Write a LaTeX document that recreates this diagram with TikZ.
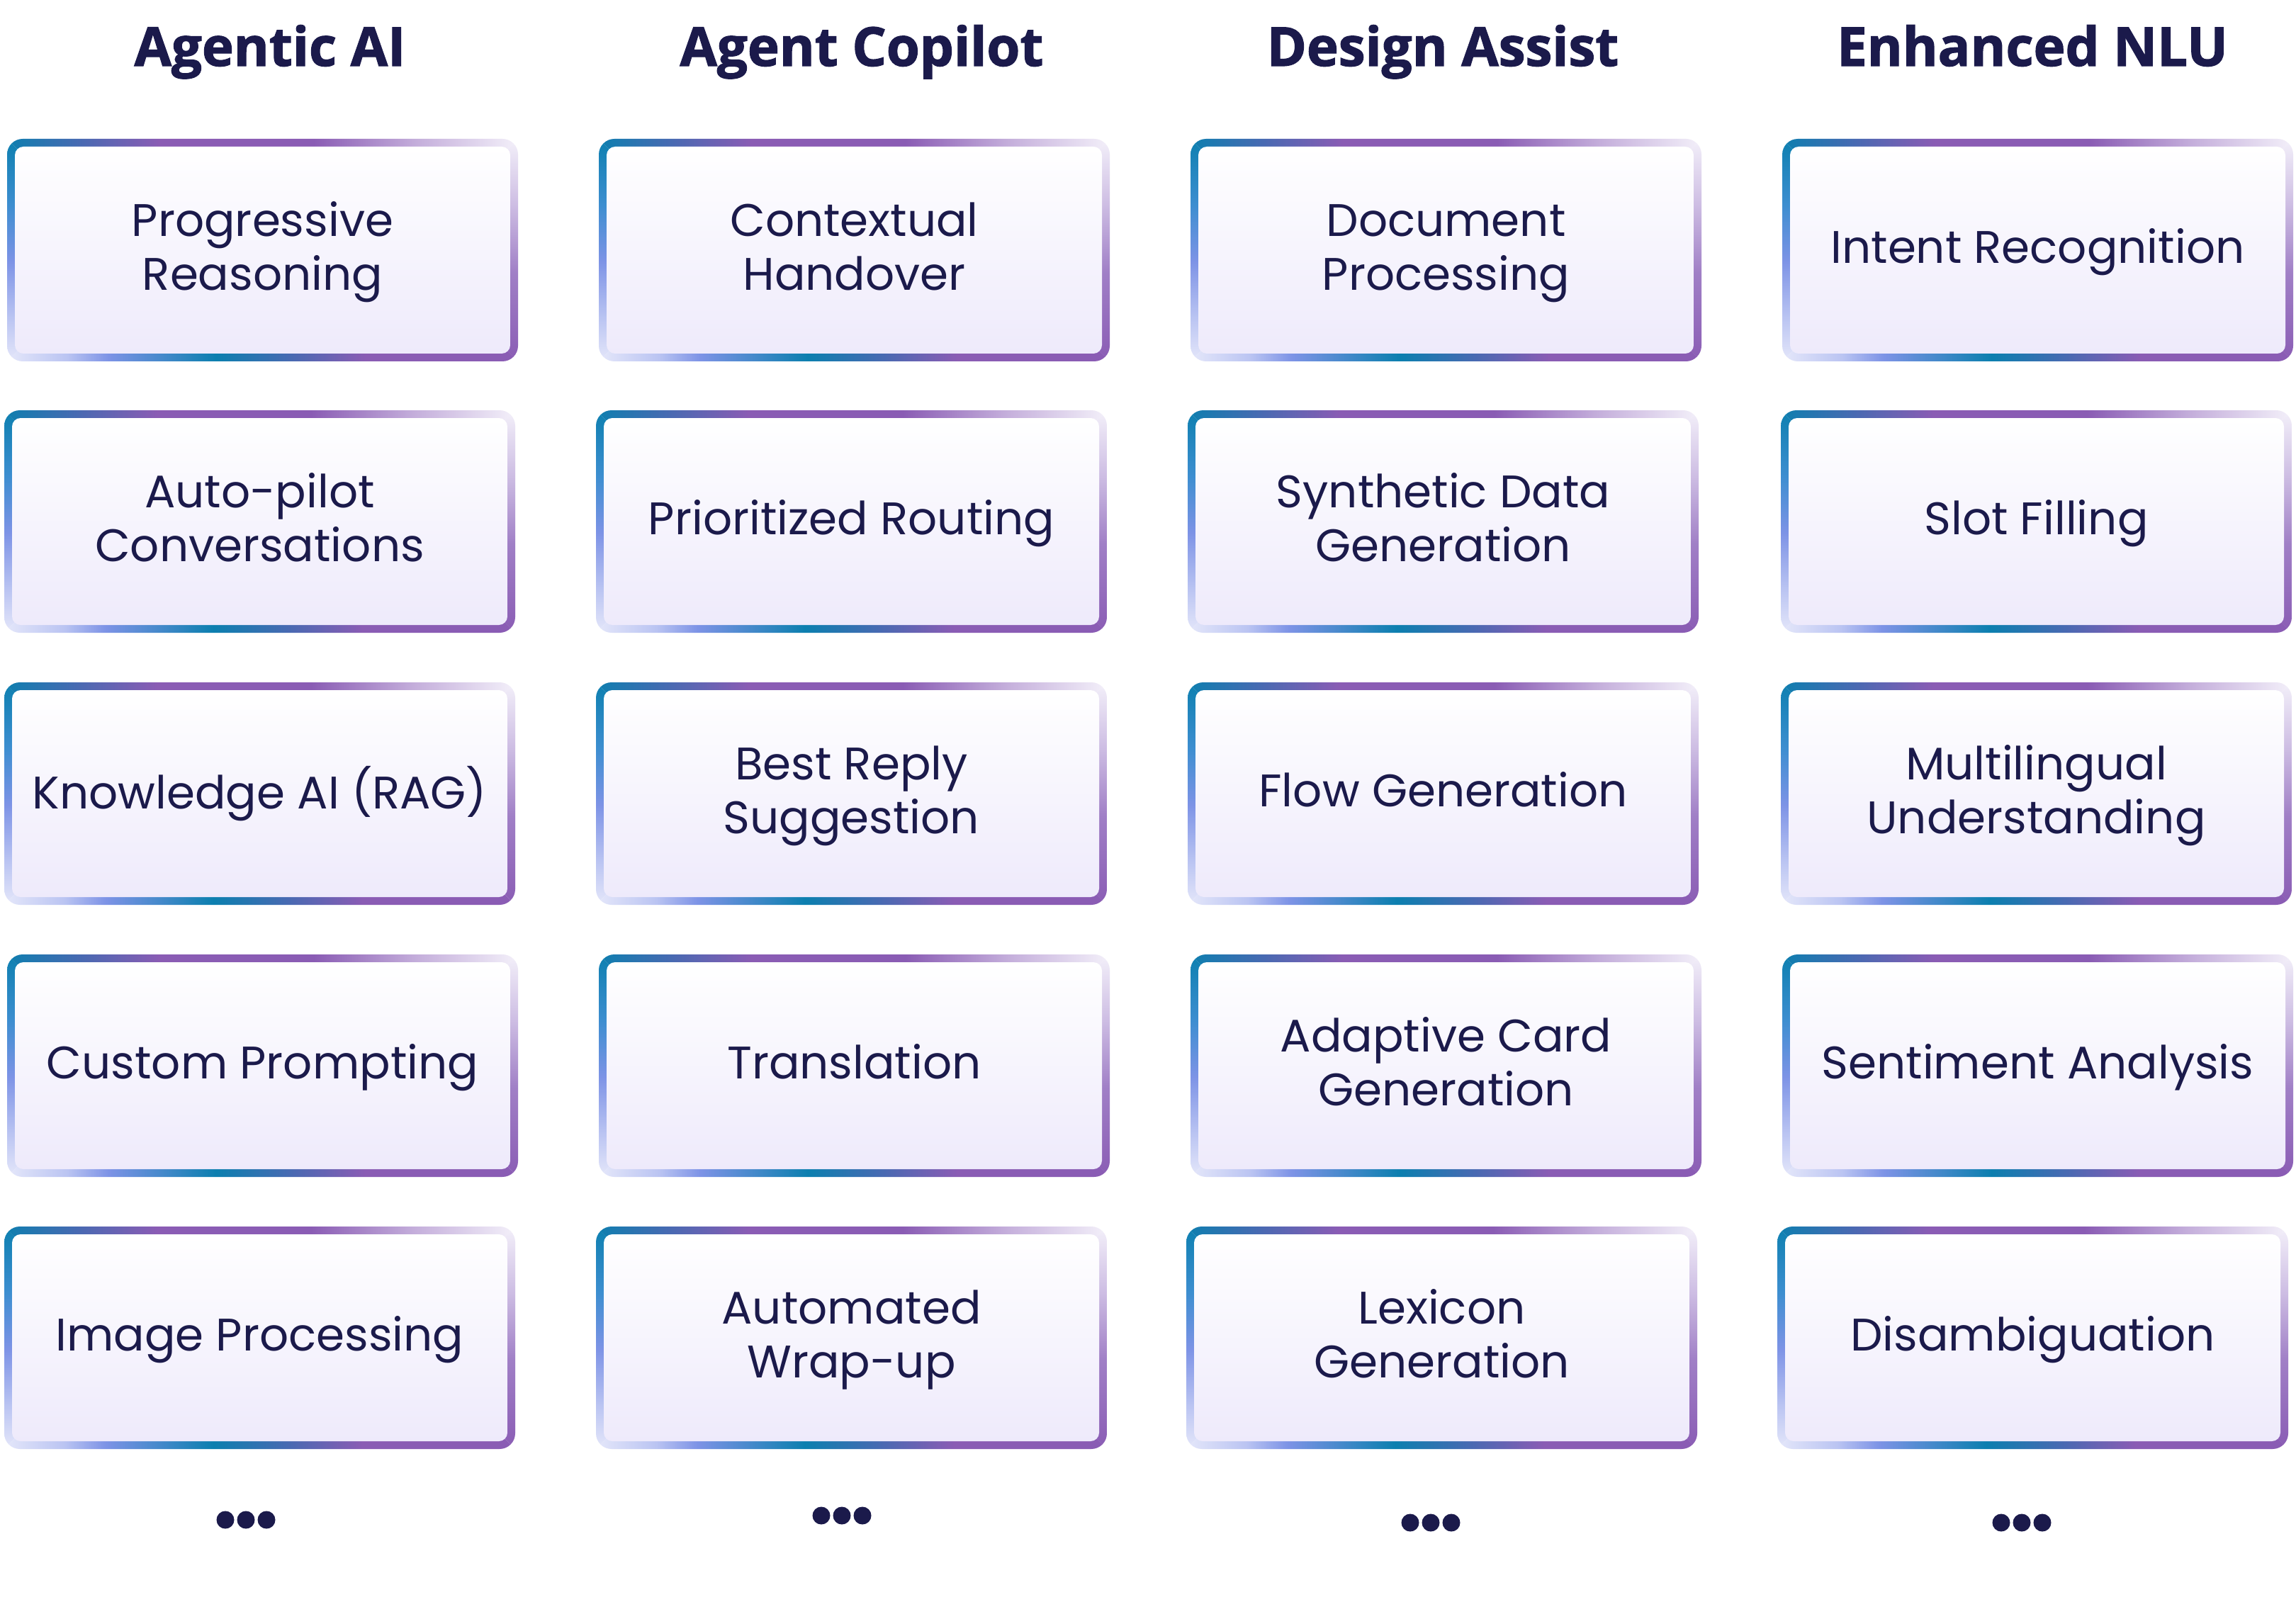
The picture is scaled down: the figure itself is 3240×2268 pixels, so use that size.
\documentclass[tikz,border=0pt]{standalone}
\usepackage{fontspec}
\setmainfont{Poppins}
\newfontfamily\headfont[FakeBold=1.6]{Open Sans}
\definecolor{ink}{HTML}{1B1A4B}
\definecolor{bTeal}{HTML}{0C7FAF}
\definecolor{bSlate}{HTML}{4A69B2}
\definecolor{bPurple}{HTML}{8A5CB4}
\definecolor{bLilac}{HTML}{C4AEDB}
\definecolor{bPale}{HTML}{F4F1FA}
\definecolor{bBlue}{HTML}{3D8ED0}
\definecolor{bPeri}{HTML}{7D93E6}
\definecolor{bPeriL}{HTML}{BAC4F2}
\definecolor{bIce}{HTML}{E6E8FA}
\definecolor{bMauve}{HTML}{A07FC6}
\definecolor{bMauveL}{HTML}{CDBDE3}
\definecolor{fillLav}{HTML}{EEEAFB}
\pgfdeclarehorizontalshading{bordertop}{100bp}{color(0bp)=(bTeal); color(25bp)=(bTeal); color(32.5bp)=(bSlate); color(40bp)=(bPurple); color(55bp)=(bPurple); color(65bp)=(bLilac); color(75bp)=(bPale); color(100bp)=(bPale)}
\pgfdeclarehorizontalshading{borderbot}{100bp}{color(0bp)=(bIce); color(25bp)=(bIce); color(31bp)=(bPeriL); color(35bp)=(bPeri); color(45.5bp)=(bTeal); color(53bp)=(bSlate); color(60bp)=(bPurple); color(75bp)=(bPurple); color(100bp)=(bPurple)}
\pgfdeclareverticalshading{borderleft}{100bp}{color(0bp)=(bIce); color(25bp)=(bIce); color(35bp)=(bPeriL); color(47.5bp)=(bPeri); color(60bp)=(bBlue); color(75bp)=(bTeal); color(100bp)=(bTeal)}
\pgfdeclareverticalshading{borderright}{100bp}{color(0bp)=(bPurple); color(25bp)=(bPurple); color(45bp)=(bMauve); color(60bp)=(bMauveL); color(75bp)=(bPale); color(100bp)=(bPale)}
\tikzset{
  boxtext/.style={align=center, text=ink, font=\fontsize{32.2pt}{38.2pt}\selectfont, inner sep=0pt},
  head/.style={anchor=base, text=ink, font=\headfont\bfseries\fontsize{38pt}{44pt}\selectfont, inner sep=0pt},
  dotmark/.style={circle, fill=ink, minimum size=12.5pt, inner sep=0pt}
}
\newcommand\featbox[4]{%
\begin{scope}[shift={(#2,#3)}]
  \begin{scope}
    \clip[rounded corners=11pt] (0,0) rectangle (721,314);
    \shade[shading=borderleft] (-2,-2) -- (159,157) -- (-2,316) -- cycle;
    \shade[shading=borderright] (723,-2) -- (562,157) -- (723,316) -- cycle;
    \shade[shading=bordertop] (-2,-2) -- (723,-2) -- (566,155) -- (155,155) -- cycle;
    \shade[shading=borderbot] (-2,316) -- (723,316) -- (566,159) -- (155,159) -- cycle;
  \end{scope}
  \shade[top color=white, bottom color=fillLav, rounded corners=6pt] (11,11) rectangle (710,303);
  \node[boxtext] (#1) at (360.5,160) {\strut #4\strut};
\end{scope}}
\begin{document}
\begin{tikzpicture}[x=0.5pt,y=-0.5pt]
\fill[white] (0,0) rectangle (3240,2268);
\useasboundingbox (0,0) rectangle (3240,2268);
% headers
\node[head] (h1) at (381,93) {Agentic AI};
\node[head] (h2) at (1216,93) {Agent Copilot};
\node[head] (h3) at (2036,93) {Design Assist};
\node[head] (h4) at (2868,93) {Enhanced NLU};
% column 1
\featbox{a1}{10}{196}{Progressive\\Reasoning}
\featbox{a2}{6}{579}{Auto-pilot\\Conversations}
\featbox{a3}{6}{963}{Knowledge AI (RAG)}
\featbox{a4}{10}{1347}{Custom Prompting}
\featbox{a5}{6}{1731}{Image Processing}
% column 2
\featbox{b1}{845}{196}{Contextual\\Handover}
\featbox{b2}{841}{579}{Prioritized Routing}
\featbox{b3}{841}{963}{Best Reply\\Suggestion}
\featbox{b4}{845}{1347}{Translation}
\featbox{b5}{841}{1731}{Automated\\Wrap-up}
% column 3
\featbox{c1}{1680}{196}{Document\\Processing}
\featbox{c2}{1676}{579}{Synthetic Data\\Generation}
\featbox{c3}{1676}{963}{Flow Generation}
\featbox{c4}{1680}{1347}{Adaptive Card\\Generation}
\featbox{c5}{1674}{1731}{Lexicon\\Generation}
% column 4
\featbox{d1}{2515}{196}{Intent Recognition}
\featbox{d2}{2513}{579}{Slot Filling}
\featbox{d3}{2513}{963}{Multilingual\\Understanding}
\featbox{d4}{2515}{1347}{Sentiment Analysis}
\featbox{d5}{2508}{1731}{Disambiguation}
% ellipsis dots
\foreach \cx/\cy/\nm in {347/2145/a, 1188/2139/b, 2019/2149/c, 2853/2149/d}{
  \node[dotmark] (\nm dl) at (\cx-29,\cy) {};
  \node[dotmark] (\nm dm) at (\cx,\cy) {};
  \node[dotmark] (\nm dr) at (\cx+29,\cy) {};
}
\end{tikzpicture}
\end{document}
